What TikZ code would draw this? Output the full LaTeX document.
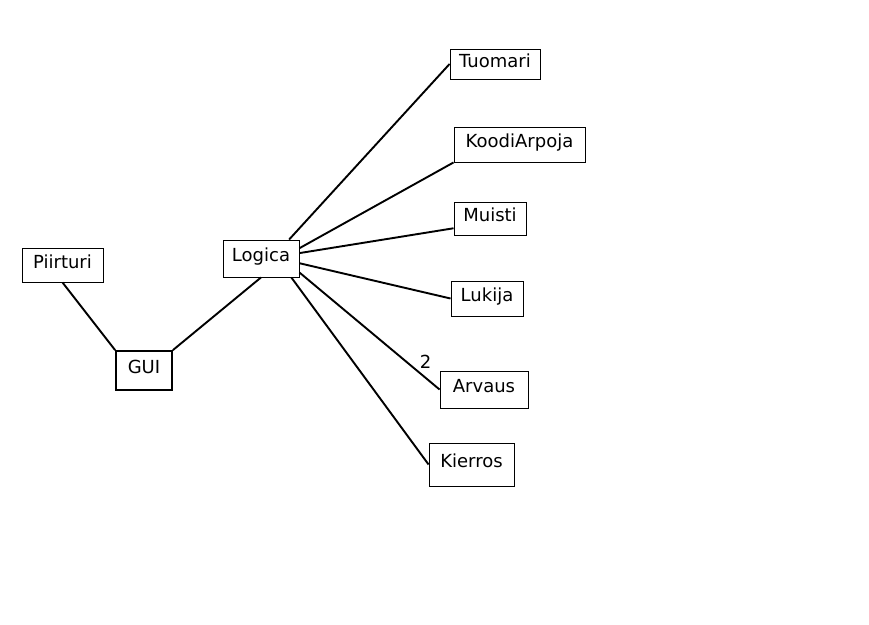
\documentclass[tikz,border=0pt]{standalone}
\usepackage{fontspec}
\setmainfont{DejaVu Sans}

\begin{document}
\begin{tikzpicture}[x=1pt, y=-1pt, font=\fontsize{18}{21}\selectfont,
    every node/.style={draw, line width=0.9pt, inner sep=0pt, text height=13pt, text depth=7pt},
    edge/.style={line width=1.9pt}]
    \useasboundingbox (0,0) rectangle (869,624);

    % GUI side
    \node[minimum width=81pt, minimum height=34pt] (piirturi) at (62.5,265) {Piirturi};
    \node[minimum width=56pt, minimum height=39pt, line width=1.8pt] (gui) at (144,370.5) {GUI};
    \node[minimum width=76pt, minimum height=37pt] (logica) at (261,258.5) {Logica};

    % classes used by the logic
    \node[minimum width=90pt, minimum height=30pt] (tuomari) at (495,64) {Tuomari};
    \node[minimum width=131pt, minimum height=35pt] (koodi) at (519.5,144.5) {KoodiArpoja};
    \node[minimum width=72pt, minimum height=33pt] (muisti) at (490,218.5) {Muisti};
    \node[minimum width=72pt, minimum height=35pt] (lukija) at (487,298.5) {Lukija};
    \node[minimum width=88pt, minimum height=37pt] (arvaus) at (484,389.5) {Arvaus};
    \node[minimum width=85pt, minimum height=43pt] (kierros) at (471.5,464.5) {Kierros};

    % connections
    \draw[edge] (piirturi.south) -- (gui.north west);
    \draw[edge] (gui.north east) -- (logica.south);
    \draw[edge] (logica.34) -- (tuomari.west);
    \draw[edge] (logica.15) -- (koodi.south west);
    \draw[edge] (logica.8) -- (muisti.195);
    \draw[edge] (logica.-7) -- (lukija.west);
    \draw[edge] (logica.-20) -- (arvaus.west)
        node[pos=0.9, above=6pt, draw=none, inner sep=3pt, text depth=0pt] (kaksi) {2};
    \draw[edge] (logica.-32) -- (kierros.west);
\end{tikzpicture}
\end{document}
